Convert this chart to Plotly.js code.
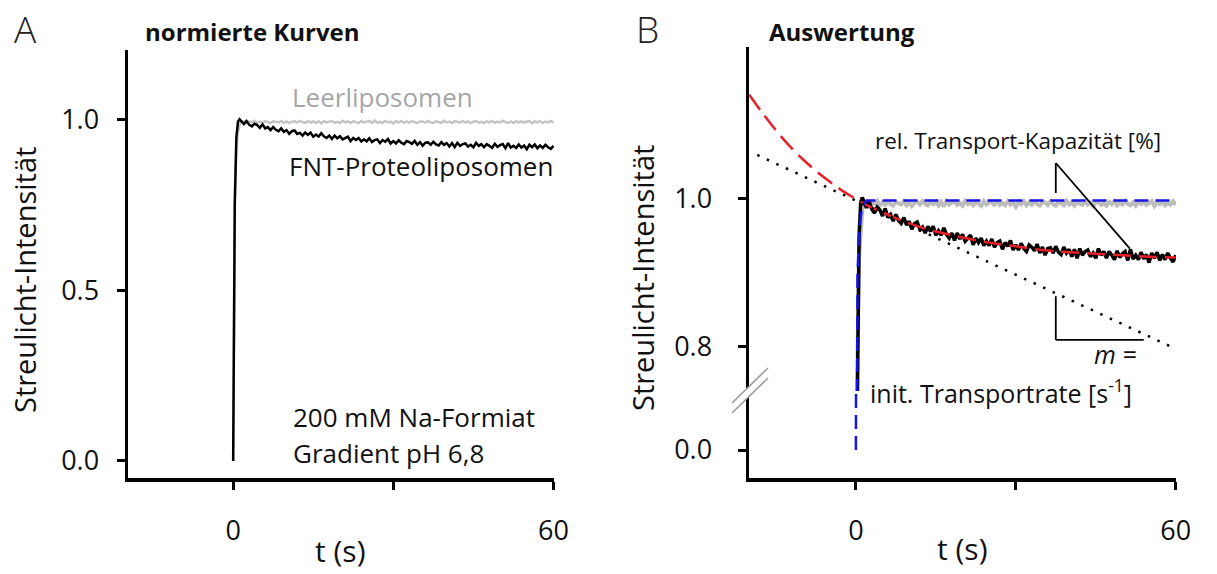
<!DOCTYPE html>
<html><head><meta charset="utf-8">
<script src="https://cdn.plot.ly/plotly-3.0.1.min.js"></script>
<style>html,body{margin:0;padding:0;background:#fff;}#chart{width:1217px;height:574px;}</style>
</head><body><div id="chart"></div>
<script>
// ---------- data ----------
const tRise = [0, 0.3, 0.6, 0.9, 1.2];
const fntRise = [0, 0.75, 0.95, 0.995, 1.002];
const leerRise = [0, 0.78, 0.92, 0.965, 0.985];

const tData = [1.5,2,2.5,3,3.5,4,4.5,5,5.5,6,6.5,7,7.5,8,8.5,9,9.5,10,10.5,11,11.5,12,12.5,13,13.5,14,14.5,15,15.5,16,16.5,17,17.5,18,18.5,19,19.5,20,20.5,21,21.5,22,22.5,23,23.5,24,24.5,25,25.5,26,26.5,27,27.5,28,28.5,29,29.5,30,30.5,31,31.5,32,32.5,33,33.5,34,34.5,35,35.5,36,36.5,37,37.5,38,38.5,39,39.5,40,40.5,41,41.5,42,42.5,43,43.5,44,44.5,45,45.5,46,46.5,47,47.5,48,48.5,49,49.5,50,50.5,51,51.5,52,52.5,53,53.5,54,54.5,55,55.5,56,56.5,57,57.5,58,58.5,59,59.5,60];

const fnt = [0.997,0.988,0.997,0.986,0.981,0.989,0.985,0.977,0.987,0.975,
0.979,0.970,0.979,0.971,0.967,0.975,0.965,0.970,0.959,0.967,
0.969,0.959,0.962,0.954,0.963,0.956,0.963,0.951,0.957,0.951,
0.961,0.952,0.947,0.954,0.944,0.954,0.946,0.952,0.943,0.947,
0.951,0.938,0.947,0.941,0.947,0.937,0.943,0.937,0.946,0.935,
0.941,0.943,0.932,0.941,0.936,0.944,0.931,0.938,0.931,0.940,
0.933,0.929,0.938,0.935,0.930,0.939,0.927,0.935,0.924,0.933,
0.934,0.927,0.936,0.928,0.925,0.935,0.927,0.932,0.922,0.932,
0.920,0.933,0.924,0.929,0.931,0.922,0.927,0.920,0.933,0.924,
0.929,0.920,0.929,0.924,0.918,0.930,0.921,0.926,0.929,0.917,
0.932,0.919,0.924,0.918,0.928,0.919,0.925,0.914,0.927,0.920,
0.928,0.917,0.925,0.918,0.927,0.920,0.915,0.924];

const leer = [0.9945,0.996,0.991,0.9955,0.9935,0.9975,0.9915,0.995,0.992,0.9965,
0.993,0.991,0.996,0.9945,0.9925,0.997,0.9915,0.9955,0.9905,0.995,
0.996,0.9925,0.997,0.9935,0.9915,0.9965,0.993,0.9955,0.991,0.996,
0.990,0.997,0.9925,0.995,0.9965,0.992,0.9945,0.991,0.9975,0.993,
0.9955,0.9915,0.996,0.9935,0.9905,0.997,0.9925,0.995,0.9965,0.991,
0.9985,0.992,0.9945,0.9915,0.997,0.9925,0.995,0.9895,0.996,0.993,
0.997,0.9915,0.9955,0.992,0.9965,0.9935,0.991,0.9955,
0.9955,0.992,0.997,0.993,0.991,0.996,0.9945,0.9915,0.9975,0.9925,
0.995,0.991,0.9965,0.9935,0.992,0.997,0.9925,0.9955,0.9905,0.995,
0.9965,0.992,0.9945,0.991,0.996,0.993,0.997,0.9915,0.995,0.9925,
0.9975,0.9935,0.9915,0.9955,0.991,0.9965,0.993,0.996,0.992,0.9945,
0.997,0.9905,0.9955,0.993,0.9965,0.9915,0.995,0.9925,0.997,0.992];

const tFit = [-20,-17.5,-15,-12.5,-10,-7.5,-5,-2.5,0,2.5,5,7.5,10,12.5,15,17.5,20,25,30,35,40,45,50,55,60];
const fitCurve = [1.141,1.116,1.093,1.072,1.054,1.038,1.024,1.011,1.000,0.990,0.982,0.974,0.967,0.961,0.956,0.952,0.948,0.941,0.936,0.931,0.928,0.926,0.924,0.922,0.921];

const tSlope = [-18.5, 60.3];
const slopeLine = [1.0595, 0.7965];

const tRef = [0, 0.3, 0.7, 1.2, 2, 60];
const refLine = [0, 0.9, 0.965, 0.99, 0.998, 0.998];

const xTickVals = [0, 60];
const xTickText = ['0', '60'];
const xMinorVals = [30];
const yTickValsA = [0, 0.5, 1.0];
const yTickTextA = ['0.0', '0.5', '1.0'];
const yTickValsB = [0.8, 1.0];
const yTickTextB = ['0.8', '1.0'];
const yTickValsB0 = [0];
const yTickTextB0 = ['0.0'];

// ---------- drawing ----------
const W = 1217, H = 574;
const px = x => x / W;
const py = y => 1 - y / H;
const FONT = "'Open Sans', 'Noto Sans', sans-serif";

const tAll = tRise.concat(tData);
const fntAll = fntRise.concat(fnt);
const leerAll = leerRise.concat(leer);

const grey = '#bcbcbc';
const blue = '#1414e6';
const traces = [
  // Panel A
  {x: tAll, y: leerAll, xaxis: 'x', yaxis: 'y', mode: 'lines', line: {color: '#c4c4c4', width: 2.5}, hoverinfo: 'skip'},
  {x: tAll, y: fntAll, xaxis: 'x', yaxis: 'y', mode: 'lines', line: {color: '#000', width: 2.5}, hoverinfo: 'skip'},
  // Panel B upper
  {x: tAll, y: leerAll, xaxis: 'x2', yaxis: 'y2', mode: 'lines', line: {color: grey, width: 4}, hoverinfo: 'skip'},
  {x: tAll, y: fntAll, xaxis: 'x2', yaxis: 'y2', mode: 'lines', line: {color: '#000', width: 3.5}, hoverinfo: 'skip'},
  {x: tFit, y: fitCurve, xaxis: 'x2', yaxis: 'y2', mode: 'lines', line: {color: '#e8202a', width: 2.5, dash: '18px,8px', shape: 'spline'}, hoverinfo: 'skip'},
  {x: tSlope, y: slopeLine, xaxis: 'x2', yaxis: 'y2', mode: 'lines', line: {color: '#000', width: 2.5, dash: '2.5px,8px'}, hoverinfo: 'skip'},
  {x: tRef, y: refLine, xaxis: 'x2', yaxis: 'y2', mode: 'lines', line: {color: blue, width: 2.5, dash: '14px,7px'}, hoverinfo: 'skip'},
  // Panel B lower (broken axis part)
  {x: tRef, y: refLine, xaxis: 'x2', yaxis: 'y3', mode: 'lines', line: {color: blue, width: 2.5, dash: '14px,7px'}, hoverinfo: 'skip'}
];

const axCommon = {
  showline: true, linecolor: '#000', linewidth: 3.5, mirror: false,
  ticks: 'outside', ticklen: 8, tickwidth: 3, tickcolor: '#000',
  showgrid: false, zeroline: false, fixedrange: true,
  tickfont: {family: FONT, size: 27, color: '#111'}
};
const minorX = {tickmode: 'array', tickvals: xMinorVals, ticks: 'outside', ticklen: 8, tickwidth: 3, tickcolor: '#000', showgrid: false};

const layout = {
  width: W, height: H,
  margin: {l: 0, r: 0, t: 0, b: 0},
  paper_bgcolor: '#fff', plot_bgcolor: 'rgba(0,0,0,0)',
  showlegend: false,
  font: {family: FONT, color: '#111'},
  xaxis: Object.assign({}, axCommon, {domain: [px(128), px(554)], range: [-19.7, 60.1], anchor: 'y',
    tickmode: 'array', tickvals: xTickVals, ticktext: xTickText, ticklabelstandoff: 18, minor: minorX}),
  yaxis: Object.assign({}, axCommon, {domain: [py(478), py(50)], range: [-0.05, 1.205], anchor: 'x',
    tickmode: 'array', tickvals: yTickValsA, ticktext: yTickTextA, ticklabelstandoff: 12}),
  xaxis2: Object.assign({}, axCommon, {domain: [px(749), px(1176)], range: [-20.05, 60.05], anchor: 'y3',
    tickmode: 'array', tickvals: xTickVals, ticktext: xTickText, ticklabelstandoff: 18, minor: minorX}),
  yaxis2: Object.assign({}, axCommon, {domain: [py(391), py(47)], range: [0.7405, 1.2054], anchor: 'x2',
    tickmode: 'array', tickvals: yTickValsB, ticktext: yTickTextB, ticklabelstandoff: 20}),
  yaxis3: Object.assign({}, axCommon, {domain: [py(478), py(391)], range: [-0.0378, 0.0797], anchor: 'x2',
    tickmode: 'array', tickvals: yTickValsB0, ticktext: yTickTextB0, ticklabelstandoff: 20}),
  shapes: [
    // axis break marks
    {type: 'path', xref: 'paper', yref: 'paper', layer: 'above',
     path: `M ${px(732)},${py(403)} L ${px(768)},${py(368)} L ${px(768)},${py(378)} L ${px(732)},${py(413)} Z`,
     fillcolor: '#fff', line: {width: 0}},
    {type: 'line', xref: 'paper', yref: 'paper', layer: 'above', x0: px(732), y0: py(403), x1: px(768), y1: py(368), line: {color: '#9a9a9a', width: 1.5}},
    {type: 'line', xref: 'paper', yref: 'paper', layer: 'above', x0: px(732), y0: py(413), x1: px(768), y1: py(378), line: {color: '#9a9a9a', width: 1.5}},
    // pointer for rel. Transport-Kapazität
    {type: 'line', xref: 'x2', yref: 'y2', x0: 37.5, y0: 1.0486, x1: 37.5, y1: 1.0081, line: {color: '#000', width: 1.8}},
    {type: 'line', xref: 'x2', yref: 'y2', x0: 37.5, y0: 1.0486, x1: 51.4, y1: 0.933, line: {color: '#000', width: 1.8}},
    // slope triangle
    {type: 'line', xref: 'x2', yref: 'y2', x0: 37.5, y0: 0.8686, x1: 37.5, y1: 0.8095, line: {color: '#000', width: 1.8}},
    {type: 'line', xref: 'x2', yref: 'y2', x0: 37.5, y0: 0.8095, x1: 54.0, y1: 0.8095, line: {color: '#000', width: 1.8}}
  ],
  annotations: []
};

function ann(text, x, y, size, opts) {
  return Object.assign({xref: 'paper', yref: 'paper', x: px(x), y: py(y), xanchor: 'left', yanchor: 'middle',
    showarrow: false, text: text, font: {family: FONT, size: size, color: '#111'}}, opts || {});
}
layout.annotations.push(
  ann('A', 12, 1, 37, {yanchor: 'top', font: {family: FONT, size: 37, color: '#222', weight: 300}}),
  ann('<b>normierte Kurven</b>', 143, 31, 24),
  ann('Leerliposomen', 290, 97, 26, {font: {family: FONT, size: 26, color: '#a6a6a6'}}),
  ann('FNT-Proteoliposomen', 287, 166, 26),
  ann('200 mM Na-Formiat', 291, 417, 26),
  ann('Gradient pH 6,8', 291, 453, 26),
  ann('Streulicht-Intensität', 24, 280, 29, {xanchor: 'center', textangle: -90}),
  ann('t (s)', 340, 573, 30, {xanchor: 'center', yanchor: 'bottom'}),
  ann('B', 634, 1, 37, {yanchor: 'top', font: {family: FONT, size: 37, color: '#222', weight: 300}}),
  ann('<b>Auswertung</b>', 767, 31, 24),
  ann('Streulicht-Intensität', 642, 278, 29, {xanchor: 'center', textangle: -90}),
  ann('rel. Transport-Kapazität [%]', 873, 140, 22.5),
  ann('<i>m =</i>', 1092, 354, 25),
  ann('init. Transportrate [s<sup>-1</sup>]', 868, 391, 25),
  ann('t (s)', 962, 571, 30, {xanchor: 'center', yanchor: 'bottom'})
);

Plotly.newPlot('chart', traces, layout, {displayModeBar: false, staticPlot: true});
</script>
</body></html>
